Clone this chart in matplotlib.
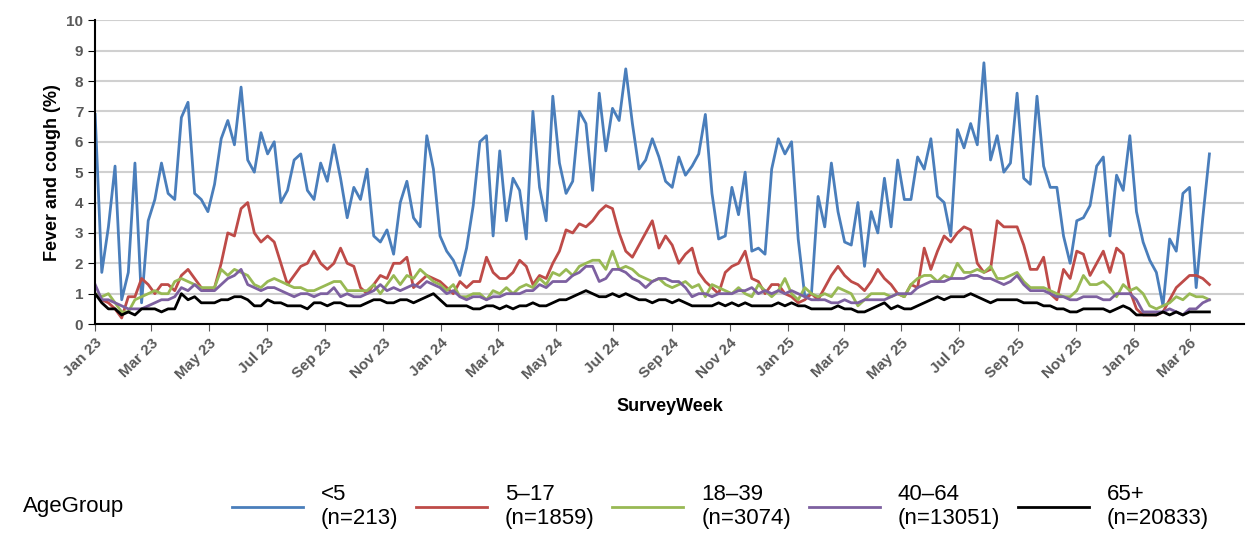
import matplotlib
matplotlib.use("Agg")
import matplotlib.pyplot as plt
import matplotlib.dates as mdates
import pandas as pd
import numpy as np

plt.rcParams['font.family'] = ['Liberation Sans', 'DejaVu Sans']

u5 = [6.9,1.7,3.2,5.2,0.8,1.7,5.3,0.7,3.4,4.1,5.3,4.3,4.1,6.8,7.3,4.3,4.1,3.7,4.6,6.1,6.7,5.9,7.8,5.4,5.0,6.3,5.6,6.0,4.0,4.4,5.4,5.6,4.4,4.1,5.3,4.7,5.9,4.8,3.5,4.5,4.1,5.1,2.9,2.7,3.1,2.3,4.0,4.7,3.5,3.2,6.2,5.1,
      2.9,2.4,2.1,1.6,2.5,3.9,6.0,6.2,2.9,5.7,3.4,4.8,4.4,2.8,7.0,4.5,3.4,7.5,5.3,4.3,4.7,7.0,6.6,4.4,7.6,5.7,7.1,6.7,8.4,6.6,5.1,5.4,6.1,5.5,4.7,4.5,5.5,4.9,5.2,5.6,6.9,4.3,2.8,2.9,4.5,3.6,5.0,2.4,2.5,2.3,5.1,6.1,
      5.6,6.0,2.8,0.9,1.0,4.2,3.2,5.3,3.7,2.7,2.6,4.0,1.9,3.7,3.0,4.8,3.2,5.4,4.1,4.1,5.5,5.1,6.1,4.2,4.0,2.9,6.4,5.8,6.6,5.9,8.6,5.4,6.2,5.0,5.3,7.6,4.8,4.6,7.5,5.2,4.5,4.5,2.9,2.0,3.4,3.5,3.9,5.2,5.5,2.9,4.9,4.4,
      6.2,3.7,2.7,2.1,1.7,0.6,2.8,2.4,4.3,4.5,1.2,3.5,5.6]
a5_17 = [1.0,0.8,0.7,0.5,0.2,0.9,0.9,1.5,1.3,1.0,1.3,1.3,1.1,1.6,1.8,1.5,1.2,1.1,1.2,2.0,3.0,2.9,3.8,4.0,3.0,2.7,2.9,2.7,2.0,1.3,1.6,1.9,2.0,2.4,2.0,1.8,2.0,2.5,2.0,1.9,1.2,1.0,1.3,1.6,1.5,2.0,2.0,2.2,1.2,1.4,1.6,1.5,
         1.4,1.2,1.0,1.4,1.2,1.4,1.4,2.2,1.7,1.5,1.5,1.7,2.1,1.9,1.3,1.6,1.5,2.0,2.4,3.1,3.0,3.3,3.2,3.4,3.7,3.9,3.8,3.0,2.4,2.2,2.6,3.0,3.4,2.5,2.9,2.6,2.0,2.3,2.5,1.7,1.4,1.2,1.0,1.7,1.9,2.0,2.4,1.5,1.4,1.0,1.3,1.3,
         1.0,0.9,0.7,0.8,1.0,0.8,1.2,1.6,1.9,1.6,1.4,1.3,1.1,1.4,1.8,1.5,1.3,1.0,0.9,1.3,1.2,2.5,1.8,2.4,2.9,2.7,3.0,3.2,3.1,2.0,1.7,1.8,3.4,3.2,3.2,3.2,2.6,1.8,1.8,2.2,1.0,0.8,1.8,1.5,2.4,2.3,1.6,2.0,2.4,1.7,2.5,2.3,
         1.1,0.5,0.3,0.3,0.3,0.4,0.8,1.2,1.4,1.6,1.6,1.5,1.3]
a18_39 = [1.0,0.9,1.0,0.7,0.4,0.4,0.8,0.9,1.0,1.1,1.0,1.0,1.4,1.5,1.4,1.3,1.2,1.2,1.2,1.8,1.6,1.8,1.7,1.6,1.3,1.2,1.4,1.5,1.4,1.3,1.2,1.2,1.1,1.1,1.2,1.3,1.4,1.4,1.1,1.1,1.1,1.1,1.3,1.0,1.3,1.6,1.3,1.6,1.5,1.8,1.6,1.4,
          1.3,1.1,1.3,0.9,0.9,1.0,1.0,0.8,1.1,1.0,1.2,1.0,1.2,1.3,1.2,1.5,1.3,1.7,1.6,1.8,1.6,1.9,2.0,2.1,2.1,1.8,2.4,1.8,1.9,1.8,1.6,1.5,1.4,1.5,1.3,1.2,1.3,1.4,1.2,1.3,0.9,1.3,1.2,1.1,1.0,1.2,1.0,0.9,1.3,1.1,0.9,1.1,
          1.5,1.0,0.8,1.2,1.0,0.9,1.0,0.9,1.2,1.1,1.0,0.6,0.8,1.0,1.0,1.0,0.9,1.0,0.9,1.3,1.5,1.6,1.6,1.4,1.6,1.5,2.0,1.7,1.7,1.8,1.7,1.9,1.5,1.5,1.6,1.7,1.4,1.2,1.2,1.2,1.1,1.0,0.9,0.9,1.1,1.6,1.3,1.3,1.4,1.2,0.9,1.3,
          1.1,1.2,1.0,0.6,0.5,0.6,0.7,0.9,0.8,1.0,0.9,0.9,0.8]
a40_64 = [1.3,0.8,0.8,0.7,0.6,0.5,0.5,0.5,0.6,0.7,0.8,0.8,0.9,1.2,1.1,1.3,1.1,1.1,1.1,1.3,1.5,1.6,1.8,1.3,1.2,1.1,1.2,1.2,1.1,1.0,0.9,1.0,1.0,0.9,1.0,1.0,1.2,0.9,1.0,0.9,0.9,1.0,1.1,1.3,1.1,1.2,1.1,1.2,1.3,1.2,1.4,1.3,
          1.2,1.0,1.1,0.9,0.8,0.9,0.9,0.8,0.9,0.9,1.0,1.0,1.0,1.1,1.1,1.3,1.2,1.4,1.4,1.4,1.6,1.7,1.9,1.9,1.4,1.5,1.8,1.8,1.7,1.5,1.4,1.2,1.4,1.5,1.5,1.4,1.4,1.2,0.9,1.0,1.0,0.9,1.0,1.0,1.0,1.1,1.1,1.2,1.0,1.1,1.0,1.1,
          1.0,1.1,1.0,0.9,0.8,0.8,0.8,0.7,0.7,0.8,0.7,0.7,0.8,0.8,0.8,0.8,0.9,1.0,1.0,1.0,1.2,1.3,1.4,1.4,1.4,1.5,1.5,1.5,1.6,1.6,1.5,1.5,1.4,1.3,1.4,1.6,1.3,1.1,1.1,1.1,1.0,0.9,0.9,0.8,0.8,0.9,0.9,0.9,0.8,0.8,1.0,1.0,
          1.0,0.8,0.4,0.4,0.4,0.4,0.5,0.4,0.3,0.5,0.5,0.7,0.8]
a65 = [1.0,0.7,0.5,0.5,0.3,0.4,0.3,0.5,0.5,0.5,0.4,0.5,0.5,1.0,0.8,0.9,0.7,0.7,0.7,0.8,0.8,0.9,0.9,0.8,0.6,0.6,0.8,0.7,0.7,0.6,0.6,0.6,0.5,0.7,0.7,0.6,0.7,0.7,0.6,0.6,0.6,0.7,0.8,0.8,0.7,0.7,0.8,0.8,0.7,0.8,0.9,1.0,
       0.8,0.6,0.6,0.6,0.6,0.5,0.5,0.6,0.6,0.5,0.6,0.5,0.6,0.6,0.7,0.6,0.6,0.7,0.8,0.8,0.9,1.0,1.1,1.0,0.9,0.9,1.0,0.9,1.0,0.9,0.8,0.8,0.7,0.8,0.8,0.7,0.8,0.7,0.6,0.6,0.6,0.6,0.7,0.6,0.7,0.6,0.7,0.6,0.6,0.6,0.6,0.7,
       0.6,0.7,0.6,0.6,0.5,0.5,0.5,0.5,0.6,0.5,0.5,0.4,0.4,0.5,0.6,0.7,0.5,0.6,0.5,0.5,0.6,0.7,0.8,0.9,0.8,0.9,0.9,0.9,1.0,0.9,0.8,0.7,0.8,0.8,0.8,0.8,0.7,0.7,0.7,0.6,0.6,0.5,0.5,0.4,0.4,0.5,0.5,0.5,0.5,0.4,0.5,0.6,
       0.5,0.3,0.3,0.3,0.3,0.4,0.3,0.4,0.3,0.4,0.4,0.4,0.4]

series = [("<5\n(n=213)", u5, "#4a7ebb"), ("5\u201317\n(n=1859)", a5_17, "#be4b48"),
          ("18\u201339\n(n=3074)", a18_39, "#98b954"), ("40\u201364\n(n=13051)", a40_64, "#7d60a0"),
          ("65+\n(n=20833)", a65, "#000000")]

weeks = pd.date_range("2023-01-01", periods=len(u5), freq="7D")
tick_dates = pd.date_range("2023-01-01", "2026-03-31", freq="2MS")

fig = plt.figure(figsize=(12.52, 5.33), dpi=100)
ax = fig.add_axes([0.076, 0.392, 0.918, 0.570])
for lab, vals, c in series:
    ax.plot(weeks, vals, color=c, lw=2, label=lab)

ax.set_ylim(0, 10)
ax.set_yticks(range(0, 11))
ax.set_xlim(pd.Timestamp("2023-01-01"), pd.Timestamp("2026-04-28"))
ax.set_xticks(tick_dates)
ax.xaxis.set_major_formatter(mdates.DateFormatter("%b %y"))
for t in ax.get_xticklabels():
    t.set_rotation(45); t.set_ha("right"); t.set_rotation_mode("anchor")
ax.tick_params(axis='x', labelsize=11, colors='#595959', length=5, direction='out')
ax.tick_params(axis='y', labelsize=11, length=5)
for t in ax.get_xticklabels() + ax.get_yticklabels():
    t.set_fontweight('bold')
    t.set_color('#595959')
ax.grid(axis='y', color='#d0d0d0', lw=1.5)
ax.set_axisbelow(True)
for s in ['top', 'right']:
    ax.spines[s].set_visible(False)
ax.spines['left'].set_linewidth(1.5)
ax.spines['bottom'].set_linewidth(1.5)
ax.set_ylabel("Fever and cough (%)", fontsize=13, fontweight='bold')
ax.set_xlabel("SurveyWeek", fontsize=13, fontweight='bold', labelpad=12)

h, l = ax.get_legend_handles_labels()
fig.text(0.018, 0.05, "AgeGroup", fontsize=16, va='center')
fig.legend(h, l, loc='center left', bbox_to_anchor=(0.178, 0.05), ncol=5, frameon=False,
           fontsize=16, handlelength=3.2, columnspacing=0.8, handletextpad=0.8, borderaxespad=0)

fig.savefig("out.png", dpi=100)
